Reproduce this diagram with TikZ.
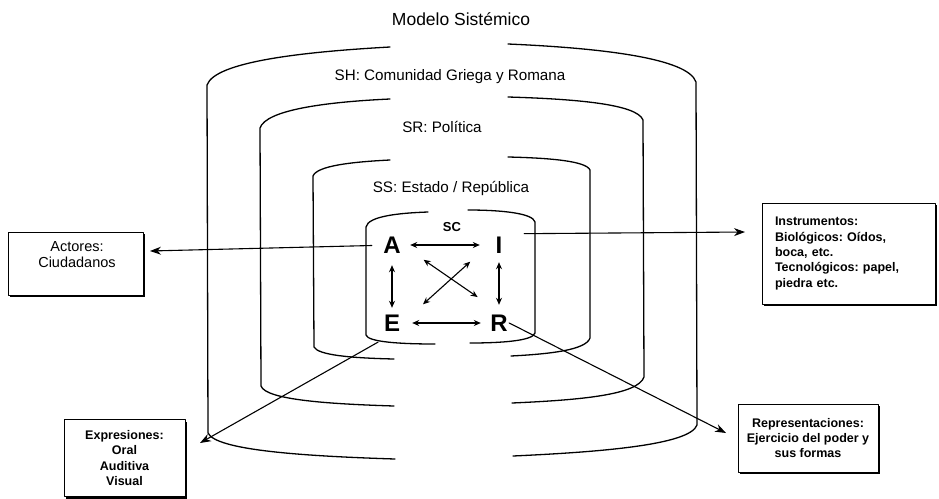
\documentclass[tikz,border=0pt]{standalone}
\usepackage{fontspec}
\setmainfont{Liberation Sans}
\usetikzlibrary{arrows.meta,shadows}
\begin{document}
\frenchspacing
\begin{tikzpicture}[x=1pt,y=-1pt, line join=round, line cap=round,
  wall/.style={line width=1.3pt},
  lbl/.style={inner sep=0, font=\fontsize{15.2}{18}\selectfont},
  letter/.style={inner sep=0, minimum width=20pt, minimum height=22pt, font=\fontsize{24}{26}\selectfont\bfseries},
  box/.style={draw, line width=1pt, fill=white, drop shadow={shadow xshift=2pt, shadow yshift=-2pt, fill=black, opacity=1}},
  outarr/.style={line width=1.1pt, -{Stealth[length=11pt,width=8pt]}},
  dbl/.style={line width=1.1pt, {Stealth[length=7pt,width=6pt]}-{Stealth[length=7pt,width=6pt]}},
  boxtxt/.style={font=\fontsize{12.5}{15.3}\selectfont\bfseries}
]
\fill[white] (0,0) rectangle (939,498);
\useasboundingbox (0,0) rectangle (939,498);

% containers
\draw[wall] (390,47) .. controls (300,52) and (215,62) .. (207,85) -- (208,433) .. controls (216,450) and (300,456) .. (395,459);
\draw[wall] (508,44) .. controls (600,48) and (688,58) .. (696,82) -- (697,425) .. controls (690,445) and (600,452) .. (513,456);
\draw[wall] (390,99) .. controls (325,102) and (266,110) .. (260,128) -- (261,386) .. controls (266,400) and (330,404) .. (394,406);
\draw[wall] (508,97) .. controls (575,99) and (637,104) .. (643,120) -- (644,377) .. controls (638,395) and (580,400) .. (512,403);
\draw[wall] (390,160) .. controls (350,162) and (317,166) .. (313,176) -- (314,347) .. controls (318,355) and (350,358) .. (394,359);
\draw[wall] (508,157) .. controls (550,158) and (586,161) .. (590,170) -- (590,338) .. controls (586,350) and (550,354) .. (511,356);
\draw[wall] (428,212) .. controls (400,213) and (368,216) .. (366,227) -- (366,335) .. controls (368,342) and (400,344) .. (435,344);
\draw[wall] (468,210) .. controls (500,210) and (533,213) .. (535,222) -- (535,333) .. controls (533,341) and (500,343) .. (470,343);

% labels
\node[lbl, font=\fontsize{17.5}{20}\selectfont] (title) at (461,19) {Modelo Sistémico};
\node[lbl] (sh) at (450,77) {SH: Comunidad Griega y Romana};
\node[lbl] (sr) at (442,127) {SR: Política};
\node[lbl] (ss) at (451,188) {SS: Estado / República};
\node[lbl, font=\fontsize{13}{15}\selectfont\bfseries] (sc) at (452,227) {SC};

% letters
\node[letter] (A) at (392,245) {A};
\node[letter] (I) at (499,245) {I};
\node[letter] (E) at (392,323) {E};
\node[letter] (R) at (499,323) {R};

% inner arrows
\draw[dbl, shorten <=8pt, shorten >=9pt] (A.east) -- (I.west);
\draw[dbl, shorten <=10pt, shorten >=8pt] (E.east) -- (R.west);
\draw[dbl, shorten <=9pt, shorten >=4pt] (A.south) -- (E.north);
\draw[dbl, shorten <=6pt, shorten >=7pt] (I.south) -- (R.north);
\draw[dbl, shorten <=26pt, shorten >=26pt] (A.east) -- (R.north);
\draw[dbl, shorten <=25pt, shorten >=28pt] (I.west) -- (E.east);

% outer boxes
\node[box, minimum width=135pt, minimum height=63pt, inner sep=0] (act) at (75.5,263.5) {};
\node[inner sep=0, anchor=north, align=center, font=\fontsize{14.5}{16.3}\selectfont] (actT) at (77,241.5) {Actores:\\Ciudadanos};
\node[box, boxtxt, minimum width=173pt, minimum height=101pt, inner xsep=13pt, text width=147pt, align=left] (ins) at (848.5,253.5) {Instrumentos:\\Biológicos: Oídos,\\boca, etc.\\Tecnológicos: papel,\\piedra etc.};
\node[box, boxtxt, minimum width=121pt, minimum height=77pt, align=center] (exp) at (124.5,458) {Expresiones:\\Oral\\Auditiva\\Visual};
\node[box, boxtxt, minimum width=140pt, minimum height=68pt, align=center] (rep) at (808,438) {Representaciones:\\Ejercicio del poder y\\sus formas};

% outer arrows
\coordinate (tA) at (150,251);
\coordinate (tI) at (745,232);
\coordinate (tE) at (200,443);
\coordinate (tR) at (726,433);
\draw[outarr, shorten <=10pt] (A) -- (tA);
\draw[outarr, shorten <=15pt] (I.north east) -- (tI);
\draw[outarr, shorten <=16pt] (E.south) -- (tE);
\draw[outarr] (R.east) -- (tR);
\end{tikzpicture}
\end{document}
